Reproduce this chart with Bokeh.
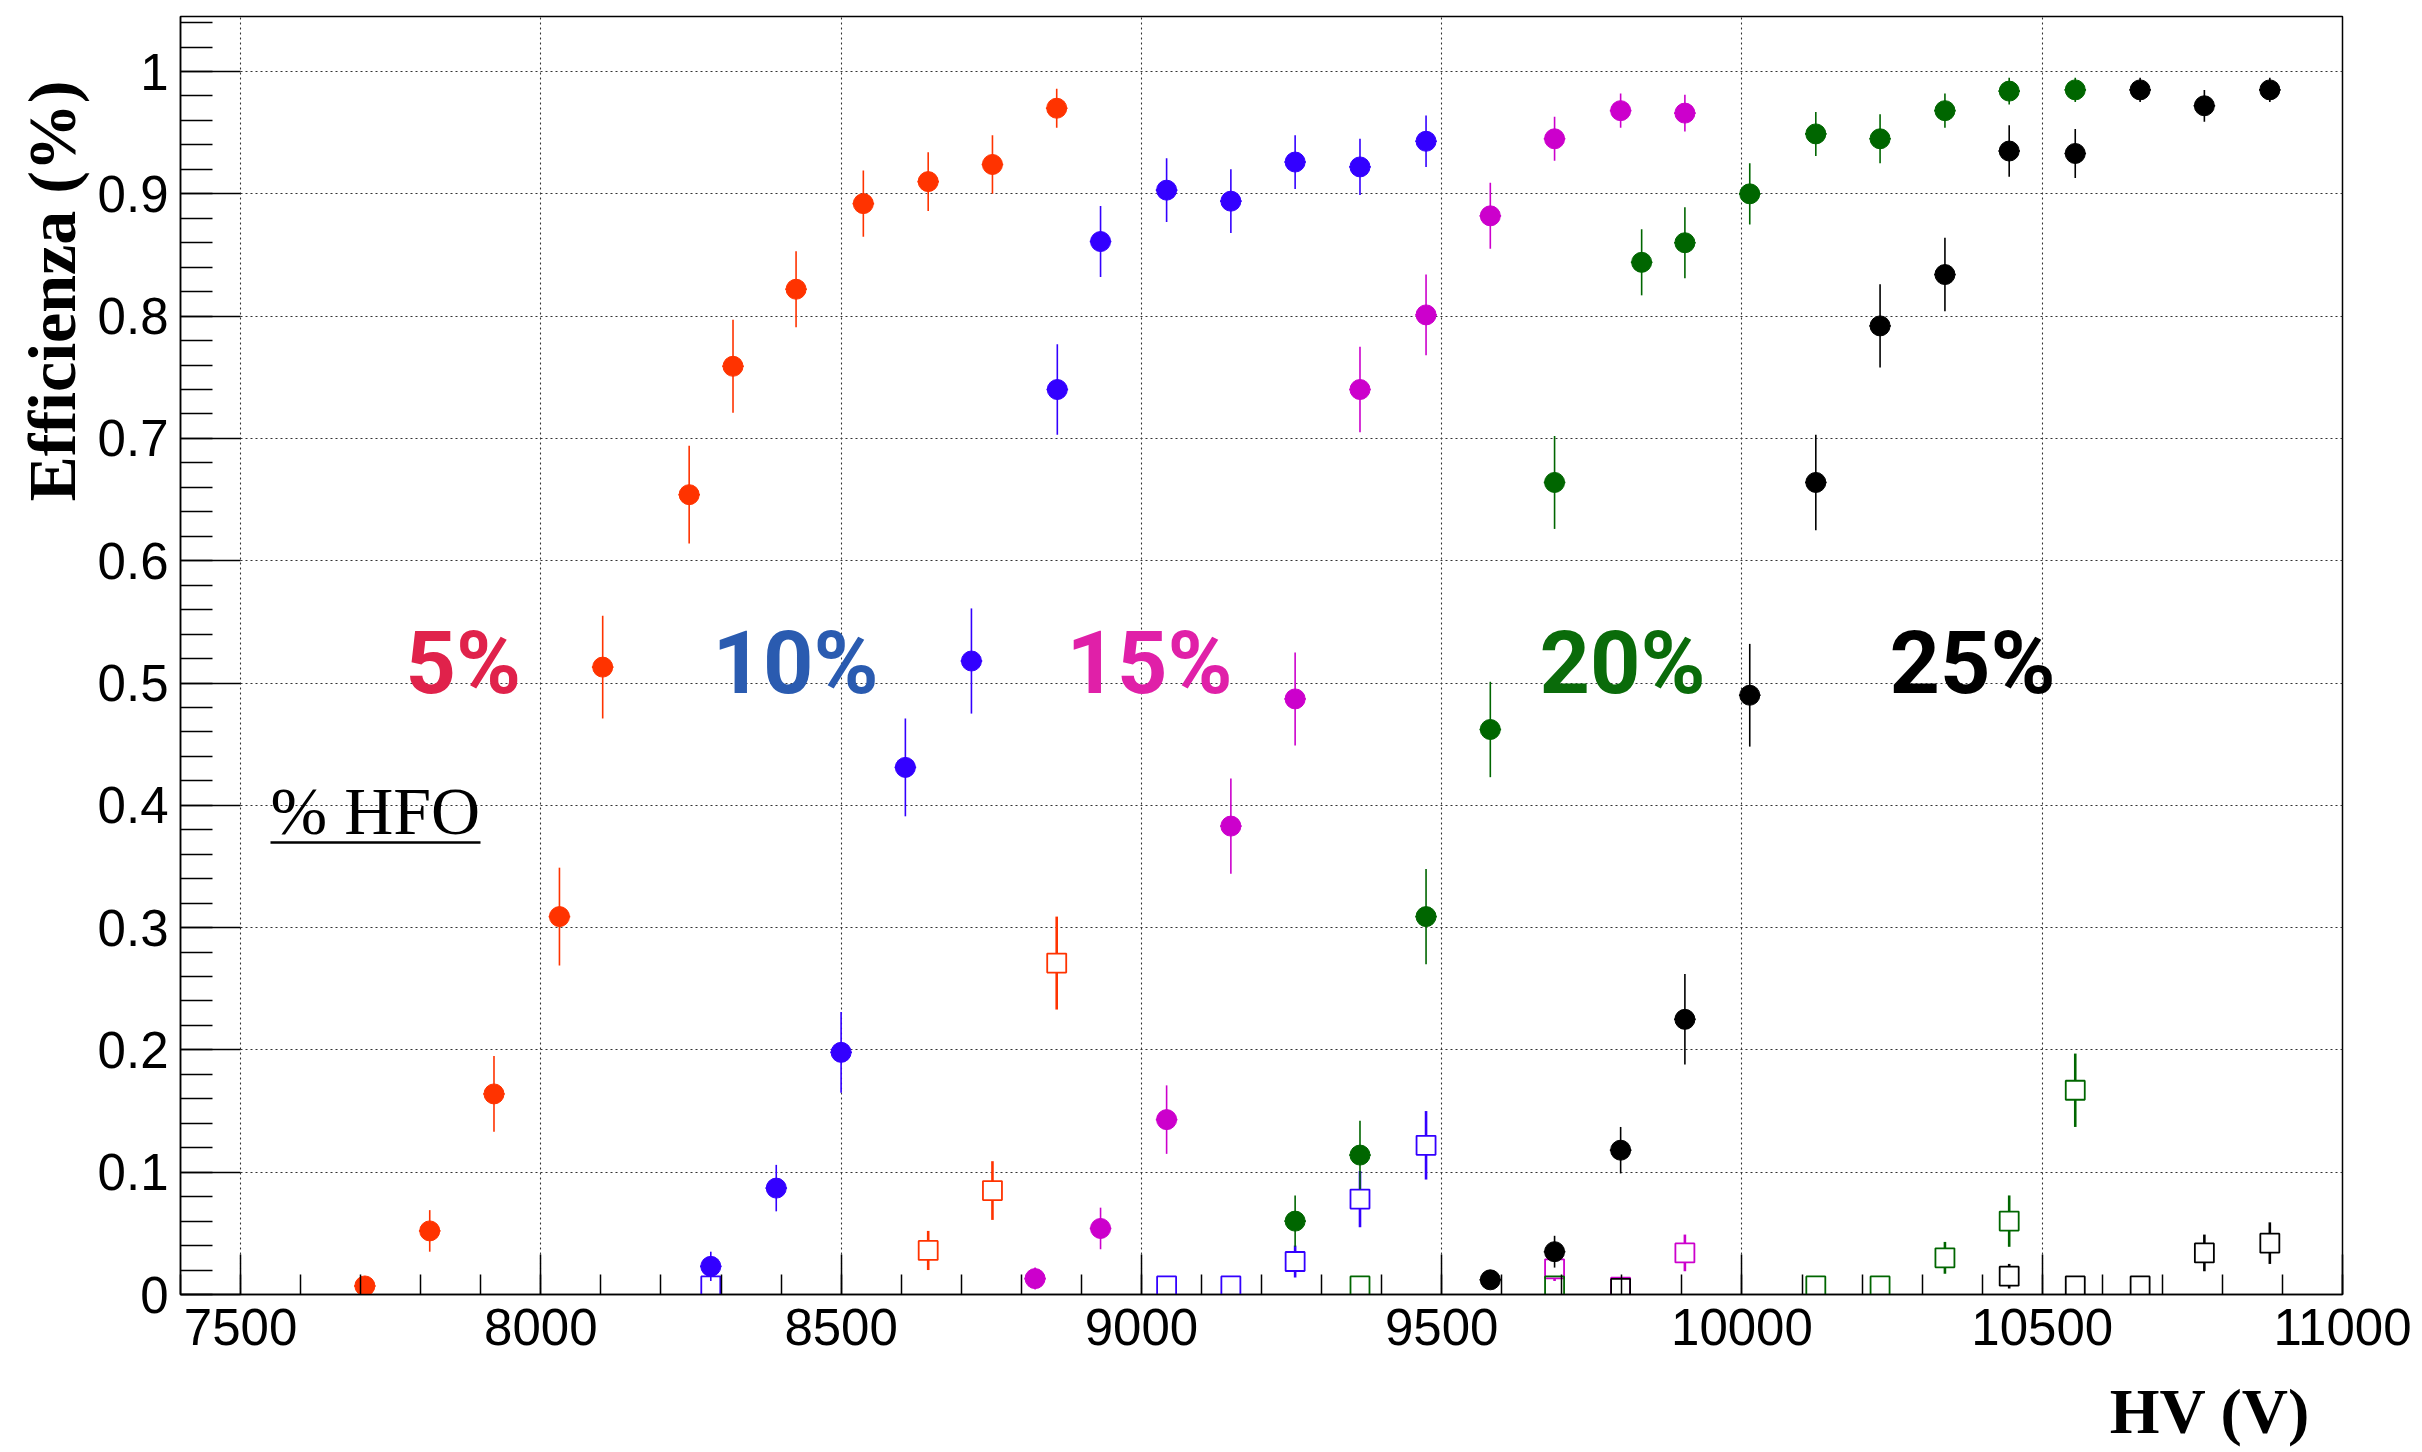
import numpy as np
from bokeh.plotting import figure
from bokeh.models import Range1d, FixedTicker, CustomJSTickFormatter, Label, Title, LinearAxis
from bokeh.embed import file_html
from bokeh.resources import INLINE

# ---------------- data ----------------
# 5 % HFO
hv_05 = [7707, 7815, 7922, 8031, 8103, 8247, 8320, 8425, 8537, 8645, 8752, 8859]
eff_05 = [0.007, 0.052, 0.164, 0.309, 0.513, 0.654, 0.759, 0.822, 0.892, 0.910, 0.924, 0.970]
err_05 = [0.008, 0.017, 0.031, 0.040, 0.042, 0.040, 0.038, 0.031, 0.027, 0.024, 0.024, 0.016]
hv_05s = [8645, 8752, 8859]
val_05s = [0.036, 0.085, 0.271]
err_05s = [0.016, 0.024, 0.038]

# 10 % HFO
hv_10 = [8283, 8392, 8500, 8607, 8717, 8860, 8932, 9042, 9149, 9256, 9364, 9474]
eff_10 = [0.023, 0.087, 0.198, 0.431, 0.518, 0.740, 0.861, 0.903, 0.894, 0.926, 0.922, 0.943]
err_10 = [0.012, 0.019, 0.033, 0.040, 0.043, 0.037, 0.029, 0.026, 0.026, 0.022, 0.023, 0.021]
hv_10s = [8283, 9042, 9149, 9256, 9364, 9474]
val_10s = [0.007, 0.007, 0.007, 0.027, 0.078, 0.122]
err_10s = [0.003, 0.003, 0.003, 0.013, 0.023, 0.028]

# 15 % HFO
hv_15 = [8823, 8932, 9042, 9149, 9256, 9364, 9474, 9581, 9688, 9798, 9905]
eff_15 = [0.013, 0.054, 0.143, 0.383, 0.487, 0.740, 0.801, 0.882, 0.945, 0.968, 0.966]
err_15 = [0.009, 0.017, 0.028, 0.039, 0.038, 0.035, 0.033, 0.027, 0.018, 0.014, 0.015]
hv_15s = [9688, 9798, 9905]
val_15s = [0.021, 0.006, 0.034]
err_15s = [0.010, 0.003, 0.015]

# 20 % HFO
hv_20 = [9256, 9364, 9474, 9581, 9688, 9833, 9905, 10013, 10123, 10230, 10338, 10445, 10555]
eff_20 = [0.060, 0.114, 0.309, 0.462, 0.664, 0.844, 0.860, 0.900, 0.949, 0.945, 0.968, 0.984, 0.985]
err_20 = [0.021, 0.028, 0.039, 0.039, 0.038, 0.027, 0.029, 0.025, 0.018, 0.020, 0.014, 0.011, 0.010]
hv_20s = [9364, 9688, 10123, 10230, 10338, 10445, 10555]
val_20s = [0.007, 0.007, 0.007, 0.007, 0.030, 0.060, 0.167]
err_20s = [0.003, 0.003, 0.003, 0.003, 0.013, 0.021, 0.030]

# 25 % HFO
hv_25 = [9581, 9688, 9798, 9905, 10013, 10123, 10230, 10338, 10445, 10555, 10663, 10770, 10879]
eff_25 = [0.012, 0.035, 0.118, 0.225, 0.490, 0.664, 0.792, 0.834, 0.935, 0.933, 0.985, 0.972, 0.985]
err_25 = [0.006, 0.013, 0.019, 0.037, 0.042, 0.039, 0.034, 0.030, 0.021, 0.020, 0.010, 0.013, 0.010]
hv_25s = [9798, 10445, 10555, 10663, 10770, 10879]
val_25s = [0.005, 0.015, 0.007, 0.007, 0.034, 0.042]
err_25s = [0.003, 0.010, 0.003, 0.003, 0.015, 0.017]

labels = ["5%", "10%", "15%", "20%", "25%"]
x_ticks = [7500, 8000, 8500, 9000, 9500, 10000, 10500, 11000]
y_ticks = [0.0, 0.1, 0.2, 0.3, 0.4, 0.5, 0.6, 0.7, 0.8, 0.9, 1.0]

# ---------------- layout ----------------
W, H = 2422, 1452
FL, FR, FT, FB = 180, 2342, 16, 1294
X0, X1 = 7400, 11000
Y0, Y1 = 0.0, 1.045


def px2x(px):
    return X0 + (px - FL) * (X1 - X0) / (FR - FL)


def py2y(py):
    return Y0 + (FB - py) * (Y1 - Y0) / (FB - FT)


p = figure(width=W, height=H, x_range=Range1d(X0, X1), y_range=Range1d(Y0, Y1),
           output_backend="svg", toolbar_location=None,
           min_border_left=FL, min_border_right=W - FR,
           min_border_top=FT, min_border_bottom=H - FB)
p.background_fill_color = "white"
p.border_fill_color = "white"
p.outline_line_color = "black"
p.outline_line_width = 1.5

p.xaxis.ticker = FixedTicker(ticks=x_ticks, minor_ticks=list(range(7400, 11001, 100)))
p.yaxis.ticker = FixedTicker(ticks=y_ticks, minor_ticks=[round(0.02 * i, 2) for i in range(53)])
p.yaxis.formatter = CustomJSTickFormatter(code="return String(Number(tick.toFixed(2)));")

for ax in (p.xaxis, p.yaxis):
    ax.axis_line_color = "black"
    ax.axis_line_width = 1.5
    ax.major_tick_line_color = "black"
    ax.minor_tick_line_color = "black"
    ax.major_tick_line_width = 1.5
    ax.minor_tick_line_width = 1.5
    ax.major_tick_out = 0
    ax.minor_tick_out = 0
    ax.major_label_text_font = "Liberation Sans"
    ax.major_label_text_font_size = "51px"
    ax.major_label_text_color = "black"

p.xaxis.major_tick_in = 40
p.xaxis.minor_tick_in = 20
p.yaxis.major_tick_in = 60
p.yaxis.minor_tick_in = 32
p.xaxis.major_label_standoff = 14
p.yaxis.major_label_standoff = 12

for g in (p.xgrid, p.ygrid):
    g.grid_line_color = "#333333"
    g.grid_line_width = 1.1
    g.grid_line_dash = "2 3"

# invisible spacer axis (one tick, empty label, hidden lines):
# pushes the x title down to where ROOT puts it
spacer = LinearAxis(ticker=FixedTicker(ticks=[9000], minor_ticks=[]),
                    formatter=CustomJSTickFormatter(code="return '';"),
                    major_tick_out=26, major_tick_in=0, minor_tick_out=0, minor_tick_in=0,
                    axis_line_color=None, major_tick_line_color=None, minor_tick_line_color=None,
                    major_label_standoff=0, major_label_text_font_size="1px")
p.add_layout(spacer, "below")

# axis titles (ROOT style: placed at the axis ends)
p.add_layout(Title(text="HV (V)", align="right", offset=32, standoff=0,
                   text_font="Liberation Serif", text_font_style="bold",
                   text_font_size="64px", text_color="black"), "below")
p.add_layout(Title(text="Efficienza (%)", align="right", offset=64, standoff=10,
                   text_font="Liberation Serif", text_font_style="bold",
                   text_font_size="68px", text_color="black"), "left")

# ---------------- series ----------------
series = [
    (hv_05, eff_05, err_05, hv_05s, val_05s, err_05s, "#ff3300"),
    (hv_10, eff_10, err_10, hv_10s, val_10s, err_10s, "#3300ff"),
    (hv_15, eff_15, err_15, hv_15s, val_15s, err_15s, "#cc00cc"),
    (hv_20, eff_20, err_20, hv_20s, val_20s, err_20s, "#006600"),
    (hv_25, eff_25, err_25, hv_25s, val_25s, err_25s, "#000000"),
]

XERR = 18.0
GAP = 9.5 * (Y1 - Y0) / (FB - FT)  # half side of the open square in data units

for hv, ef, er, hvs, vs, ers, col in series:
    hv = np.array(hv, float); ef = np.array(ef); er = np.array(er)
    p.segment(x0=hv, y0=ef - er, x1=hv, y1=ef + er, line_color=col, line_width=1.6)
    p.segment(x0=hv - XERR, y0=ef, x1=hv + XERR, y1=ef, line_color=col, line_width=1.6)
    p.scatter(hv, ef, marker="circle", size=20, fill_color=col, line_color=col)

    hvs = np.array(hvs, float); vs = np.array(vs); ers = np.array(ers)
    m = ers > GAP
    if m.any():
        p.segment(x0=hvs[m], y0=vs[m] + GAP, x1=hvs[m], y1=vs[m] + ers[m], line_color=col, line_width=2.6)
        p.segment(x0=hvs[m], y0=vs[m] - ers[m], x1=hvs[m], y1=vs[m] - GAP, line_color=col, line_width=2.6)
    p.scatter(hvs, vs, marker="square", size=19, fill_alpha=0.0, line_color=col, line_width=1.8)

# ---------------- texts ----------------
label_cols = ["#e0224b", "#2a5bb0", "#e020a8", "#0a6b0a", "#000000"]
label_px = [405, 712, 1066, 1539, 1889]
for t, c, lx in zip(labels, label_cols, label_px):
    p.add_layout(Label(x=px2x(lx), y=py2y(692 - 30), text=t, text_color=c,
                       text_font="Roboto", text_font_style="bold", text_font_size="88px",
                       text_align="left", text_baseline="alphabetic"))

p.add_layout(Label(x=px2x(270), y=py2y(834 - 24), text="% HFO", text_color="black",
                   text_font="Liberation Serif", text_font_size="68px",
                   text_align="left", text_baseline="alphabetic"))
p.segment(x0=[px2x(270)], y0=[py2y(842)], x1=[px2x(480)], y1=[py2y(842)],
          line_color="black", line_width=2.5)

open("out.html", "w").write(file_html(p, INLINE))
